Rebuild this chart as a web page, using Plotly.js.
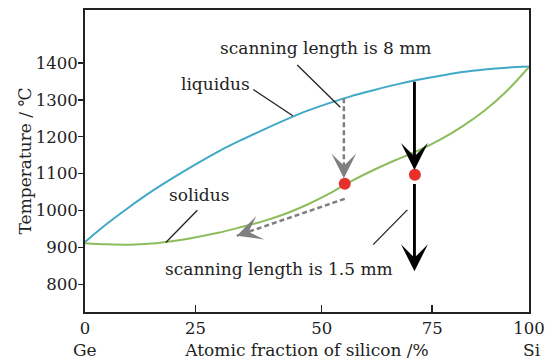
<!DOCTYPE html>
<html>
<head>
<meta charset="utf-8">
<script src="https://cdn.plot.ly/plotly-3.0.1.min.js"></script>
<style>html,body{margin:0;padding:0;background:#fff;}#chart{width:553px;height:364px;}</style>
</head>
<body>
<div id="chart"></div>
<script>
// ---- data (x in frame units 0..100, temperature in °C) ----
const liquidusX = [0, 5, 10, 15, 20, 25, 30, 35, 40, 45, 50, 55, 60, 65, 70, 75, 80, 85, 90, 95, 100];
const liquidusT = [915, 965, 1010, 1052, 1090, 1126, 1160, 1190, 1218, 1245, 1270, 1291, 1310, 1326, 1341, 1354, 1365, 1375, 1382, 1387, 1390];
const solidusX = [0, 5, 10, 15, 20, 25, 30, 35, 40, 45, 50, 55, 60, 65, 70, 75, 80, 85, 90, 95, 100];
const solidusT = [912, 909, 908, 911, 918, 928, 940, 955, 971, 991, 1016, 1046, 1080, 1110, 1137, 1162, 1192, 1228, 1271, 1324, 1389];

const pointsX = [58.5, 74.3];
const pointsT = [1073, 1097];

// arrows: [startX, startT, tipX, tipT]
const arrow8mmDown = [58.3, 1304, 58.3, 1088];
const arrow8mmSolidus = [58.5, 1032, 34.2, 932];
const arrow15mmUpper = [74.2, 1353, 74.2, 1110];
const arrow15mmLower = [74.2, 1076, 74.2, 836];

// leader lines: [x0, T0, x1, T1]
const leaderLiquidus = [37.9, 1328, 46.8, 1257];
const leaderSolidus = [25.3, 1001, 18.2, 914];
const leader8mm = [47.8, 1394, 57.5, 1280];
const leader15mm = [72.6, 1002, 64.9, 908];

// labels
const labelTexts = ['liquidus', 'solidus', 'scanning length is 8 mm', 'scanning length is 1.5 mm'];
const labelX = [29.3, 25.7, 54.3, 43.8];
const labelT = [1343, 1042, 1440, 842];

const yTickVals = [800, 900, 1000, 1100, 1200, 1300, 1400];
const xTickVals = [0, 24.9, 53.3, 78.2, 100];
const xTickText = ['0', '25', '50', '75', '100'];

// ---- styles ----
const FONT = 'DejaVu Serif, Liberation Serif, serif';
const INK = '#222222';
const GRAY = '#7f7f7f';
const X_RANGE = [0, 100];
const Y_RANGE = [725.7, 1543];
const PLOT_W = 444, PLOT_H = 302.5;

function seg(a, color, width, dash) {
  return {x: [a[0], a[2]], y: [a[1], a[3]], mode: 'lines', hoverinfo: 'skip', showlegend: false,
          line: {color: color, width: width, dash: dash || 'solid'}};
}

const traces = [
  {x: liquidusX, y: liquidusT, mode: 'lines', line: {color: '#41a9c8', width: 2, shape: 'spline'}, name: 'liquidus', showlegend: false},
  {x: solidusX, y: solidusT, mode: 'lines', line: {color: '#8cbd5c', width: 2, shape: 'spline'}, name: 'solidus', showlegend: false},
  seg(leaderLiquidus, INK, 1.3),
  seg(leaderSolidus, INK, 1.3),
  seg(leader8mm, INK, 1.3),
  seg(leader15mm, INK, 1.3),
  seg(arrow8mmDown, GRAY, 2.5, '5px,3px'),
  seg(arrow8mmSolidus, GRAY, 2.5, '5px,3px'),
  {x: pointsX, y: pointsT, mode: 'markers', marker: {color: '#e8302a', size: 12}, showlegend: false}
];

const annotations = [];
labelTexts.forEach((t, i) => annotations.push({
  x: labelX[i], y: labelT[i], xref: 'x', yref: 'y', text: t, showarrow: false,
  xanchor: 'center', yanchor: 'middle', font: {family: FONT, size: 17, color: INK}
}));

// arrowhead only: short solid tail (about 14 px) hidden under the head, dashed shaft is a trace
function headOnly(a, color) {
  const kx = PLOT_W / (X_RANGE[1] - X_RANGE[0]);
  const ky = PLOT_H / (Y_RANGE[1] - Y_RANGE[0]);
  const lenPx = Math.hypot((a[0] - a[2]) * kx, (a[1] - a[3]) * ky);
  const f = 14 / lenPx;
  return {x: a[2], y: a[3], xref: 'x', yref: 'y', axref: 'x', ayref: 'y',
          ax: a[2] + f * (a[0] - a[2]), ay: a[3] + f * (a[1] - a[3]),
          text: '', showarrow: true, arrowhead: 3, arrowsize: 1.65, arrowwidth: 2.5, arrowcolor: color};
}
function fullArrow(a, color) {
  return {x: a[2], y: a[3], xref: 'x', yref: 'y', axref: 'x', ayref: 'y', ax: a[0], ay: a[1],
          text: '', showarrow: true, arrowhead: 3, arrowsize: 1.55, arrowwidth: 2.9, arrowcolor: color};
}
annotations.push(headOnly(arrow8mmDown, GRAY));
annotations.push(headOnly(arrow8mmSolidus, GRAY));
annotations.push(fullArrow(arrow15mmUpper, '#000'));
annotations.push(fullArrow(arrow15mmLower, '#000'));

annotations.push({x: 0, y: -0.127, xref: 'paper', yref: 'paper', text: 'Ge', showarrow: false,
  xanchor: 'center', yanchor: 'middle', font: {family: FONT, size: 17, color: INK}});
annotations.push({x: 1.006, y: -0.127, xref: 'paper', yref: 'paper', text: 'Si', showarrow: false,
  xanchor: 'center', yanchor: 'middle', font: {family: FONT, size: 17, color: INK}});

const layout = {
  width: 553, height: 364,
  margin: {l: 85, r: 24, t: 10, b: 51.5},
  paper_bgcolor: '#fff', plot_bgcolor: '#fff',
  font: {family: FONT, size: 16, color: INK},
  showlegend: false,
  xaxis: {
    range: X_RANGE, showgrid: false, zeroline: false,
    showline: true, mirror: true, linewidth: 2, linecolor: INK,
    ticks: 'inside', ticklen: 7, tickwidth: 1.5, tickcolor: INK,
    tickmode: 'array', tickvals: xTickVals, ticktext: xTickText,
    tickfont: {family: FONT, size: 16.5, color: INK},
    title: {text: 'Atomic fraction of silicon /%', font: {family: FONT, size: 17, color: INK}, standoff: 7}
  },
  yaxis: {
    range: Y_RANGE, showgrid: false, zeroline: false,
    showline: true, mirror: true, linewidth: 2, linecolor: INK,
    ticks: 'outside', ticklen: 5, tickwidth: 1.5, tickcolor: INK,
    tickmode: 'array', tickvals: yTickVals, ticklabelstandoff: -3,
    tickfont: {family: FONT, size: 16.5, color: INK},
    title: {text: 'Temperature / ℃', font: {family: FONT, size: 17, color: INK}, standoff: 0}
  },
  annotations: annotations
};

Plotly.newPlot('chart', traces, layout, {staticPlot: true, displayModeBar: false});
</script>
</body>
</html>
